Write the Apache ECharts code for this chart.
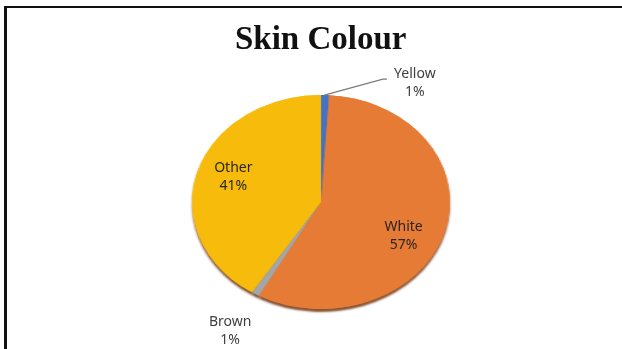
<!DOCTYPE html>
<html>
<head>
<meta charset="utf-8">
<title>Skin Colour</title>
<script src="https://cdn.jsdelivr.net/npm/echarts@6/dist/echarts.min.js"></script>
<style>
  html, body { margin: 0; padding: 0; background: #fff; }
  #stage { position: relative; width: 622px; height: 349px; overflow: hidden; background: #fff; }
  #frame { position: absolute; left: 4px; top: 6px; right: -10px; bottom: -10px;
           border-top: 2px solid #111; border-left: 3px solid #111; }
  /* the pie face is stretched sideways into a tilted ellipse */
  #pie { position: absolute; left: 0; top: 0; width: 622px; height: 349px;
         transform: scaleX(1.205); transform-origin: 321px 202px; }
  #labels { position: absolute; left: 0; top: 0; width: 622px; height: 349px; }
</style>
</head>
<body>
<div id="stage">
  <div id="frame"></div>
  <div id="pie"></div>
  <div id="labels"></div>
</div>
<script>
// ---- data ----
const chartTitle = 'Skin Colour';
const skinTypes = ['Yellow', 'White', 'Brown', 'Other'];
const shares = [1, 57, 1, 41];
// categories whose label sits on the slice; the rest go outside
const insideLabelled = ['White', 'Other'];

// ---- style ----
const sliceColors = ['#4472C4', '#E67B36', '#A5A5A5', '#F7BB0C'];
const center = [321, 202];
const faceRadius = 107;
const labelFont = { fontFamily: '"Noto Sans", sans-serif', fontSize: 14 };

function sliceData() {
  return skinTypes.map((name, i) => ({
    name: name,
    value: shares[i],
    itemStyle: { color: sliceColors[i] }
  }));
}

// pie face (stretched layer)
const pieChart = echarts.init(document.getElementById('pie'));
pieChart.setOption({
  animation: false,
  series: [
    {
      // same slices underneath, casting the rim shadow
      type: 'pie', silent: true, center: center, radius: faceRadius,
      startAngle: 90, clockwise: true,
      label: { show: false }, labelLine: { show: false },
      itemStyle: { borderWidth: 0, shadowColor: 'rgba(105,42,0,0.8)', shadowOffsetY: 3, shadowBlur: 2 },
      data: sliceData()
    },
    {
      type: 'pie', name: chartTitle, center: center, radius: faceRadius,
      startAngle: 90, clockwise: true,
      label: { show: false }, labelLine: { show: false },
      itemStyle: { borderWidth: 0 },
      emphasis: { disabled: true },
      data: sliceData()
    }
  ]
});

// title and labels (unstretched layer)
const labelChart = echarts.init(document.getElementById('labels'));
labelChart.setOption({
  animation: false,
  title: {
    text: chartTitle, left: 230, top: 19,
    textStyle: { fontFamily: '"Liberation Serif", "Times New Roman", serif', fontWeight: 'bold', fontSize: 33, color: '#111' }
  },
  series: [
    {
      // labels placed on the slices
      type: 'pie', silent: true, center: center, radius: faceRadius * 1.65,
      startAngle: 90, clockwise: true, avoidLabelOverlap: false,
      itemStyle: { color: 'transparent', borderWidth: 0 },
      labelLine: { show: false },
      label: Object.assign({ position: 'inside', formatter: '{b}\n{d}%', color: '#2a2520', lineHeight: 18 }, labelFont),
      labelLayout: function (p) {
        if (skinTypes[p.dataIndex] === 'White') return { dx: -5, dy: 9 };
      },
      data: skinTypes.map((name, i) => ({
        name: name, value: shares[i],
        itemStyle: { color: 'transparent' },
        label: { show: insideLabelled.indexOf(name) >= 0 }
      }))
    },
    {
      // labels outside the pie, with a leader line for the thin top slice
      type: 'pie', silent: true, center: center, radius: faceRadius,
      startAngle: 90, clockwise: true, avoidLabelOverlap: false,
      itemStyle: { color: 'transparent', borderWidth: 0 },
      label: {
        position: 'outside', formatter: '{t|{b}}\n{t|{d}%}',
        rich: { t: Object.assign({ width: 46, align: 'center', lineHeight: 18, color: '#404040' }, labelFont) }
      },
      labelLine: { length: 16, length2: 62, lineStyle: { color: '#7a7a7a', width: 1.2 } },
      labelLayout: function (p) {
        const name = skinTypes[p.dataIndex];
        if (name === 'Yellow' && p.labelLinePoints) {
          const pts = p.labelLinePoints;
          const end = pts[pts.length - 1];
          return { dy: 4, labelLinePoints: [pts[0], [end[0] - 4, end[1]], end] };
        }
        if (name === 'Brown') return { dx: 12, dy: 2 };
      },
      data: skinTypes.map((name, i) => {
        const outside = insideLabelled.indexOf(name) < 0;
        return {
          name: name, value: shares[i],
          itemStyle: { color: 'transparent' },
          label: { show: outside },
          labelLine: name === 'Brown'
            ? { show: false, length: 40, length2: 0 }
            : { show: outside }
        };
      })
    }
  ]
});
</script>
</body>
</html>
